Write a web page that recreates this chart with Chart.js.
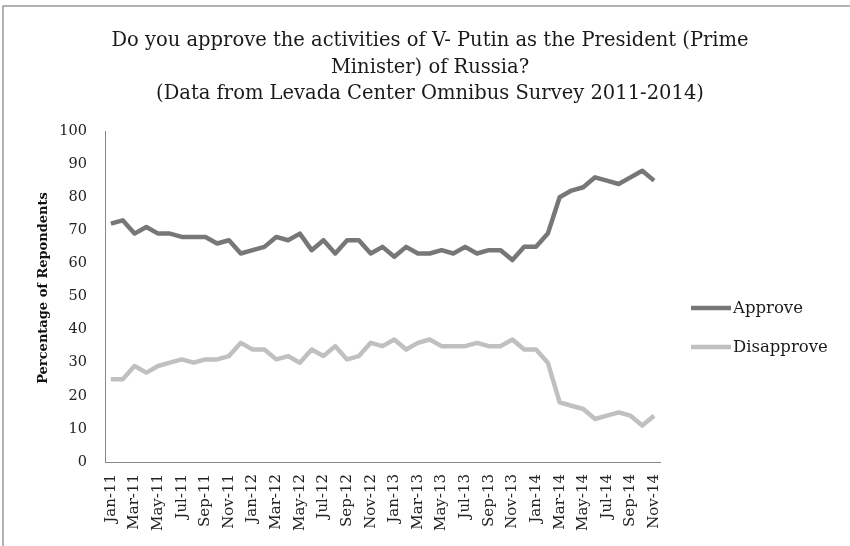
<!DOCTYPE html>
<html><head><meta charset="utf-8">
<script src="https://cdn.jsdelivr.net/npm/chart.js@4"></script>
<style>html,body{margin:0;padding:0;background:#fff}#wrap{width:850px;height:546px;position:relative}</style>
</head><body><div id="wrap"><canvas id="c" width="850" height="546"></canvas></div>
<script>
const months = ['Jan-11','Feb-11','Mar-11','Apr-11','May-11','Jun-11','Jul-11','Aug-11','Sep-11','Oct-11','Nov-11','Dec-11',
'Jan-12','Feb-12','Mar-12','Apr-12','May-12','Jun-12','Jul-12','Aug-12','Sep-12','Oct-12','Nov-12','Dec-12',
'Jan-13','Feb-13','Mar-13','Apr-13','May-13','Jun-13','Jul-13','Aug-13','Sep-13','Oct-13','Nov-13','Dec-13',
'Jan-14','Feb-14','Mar-14','Apr-14','May-14','Jun-14','Jul-14','Aug-14','Sep-14','Oct-14','Nov-14'];
const approve = [72,73,69,71,69,69,68,68,68,66,67,63, 64,65,68,67,69,64,67,63,67,67,63,65, 62,65,63,63,64,63,65,63,64,64,61,65, 65,69,80,82,83,86,85,84,86,88,85];
const disapprove = [25,25,29,27,29,30,31,30,31,31,32,36, 34,34,31,32,30,34,32,35,31,32,36,35, 37,34,36,37,35,35,35,36,35,35,37,34, 34,30,18,17,16,13,14,15,14,11,14];
const seriesNames = ['Approve','Disapprove'];
const titleLines = ['Do you approve the activities of V- Putin as the President (Prime','Minister) of Russia?','(Data from Levada Center Omnibus Survey 2011-2014)'];
const yAxisTitle = 'Percentage of Repondents';
const yMin = 0, yMax = 100, yStep = 10;

const FONT = '"DejaVu Serif", serif';
const deco = {
  id: 'deco',
  beforeDraw(chart) {
    const ctx = chart.ctx;
    ctx.save();
    ctx.fillStyle = '#fff';
    ctx.fillRect(0, 0, chart.width, chart.height);
    ctx.strokeStyle = '#999';
    ctx.lineWidth = 1.5;
    ctx.beginPath();
    ctx.moveTo(3, chart.height); ctx.lineTo(3, 6); ctx.lineTo(chart.width, 6);
    ctx.stroke();
    ctx.restore();
  },
  afterDraw(chart) {
    const ctx = chart.ctx;
    ctx.save();
    ctx.fillStyle = '#1a1a1a';
    ctx.font = '19.5px ' + FONT;
    ctx.textAlign = 'center';
    ctx.textBaseline = 'alphabetic';
    titleLines.forEach((t, i) => ctx.fillText(t, 430, 46 + i * 26.5));
    // y axis title
    ctx.save();
    ctx.translate(44, 288);
    ctx.rotate(-Math.PI / 2);
    ctx.font = 'bold 13px ' + FONT;
    ctx.fillStyle = '#111';
    ctx.textAlign = 'center';
    ctx.textBaseline = 'middle';
    ctx.fillText(yAxisTitle, 0, 0);
    ctx.restore();
    const ys = [308, 347];
    chart.data.datasets.forEach((ds, i) => {
      ctx.strokeStyle = ds.borderColor;
      ctx.lineWidth = 4.5;
      ctx.lineCap = 'butt';
      ctx.beginPath();
      ctx.moveTo(691, ys[i]); ctx.lineTo(731, ys[i]);
      ctx.stroke();
      ctx.fillStyle = '#1a1a1a';
      ctx.font = '16.5px ' + FONT;
      ctx.textAlign = 'left';
      ctx.textBaseline = 'middle';
      ctx.fillText(ds.label, 733, ys[i] + 1);
    });
    ctx.restore();
  }
};

new Chart(document.getElementById('c'), {
  type: 'line',
  data: {
    labels: months,
    datasets: [
      { label: seriesNames[0], data: approve, borderColor: '#777777', backgroundColor: '#777777', borderWidth: 4.5, pointRadius: 0, tension: 0, borderJoinStyle: 'round' },
      { label: seriesNames[1], data: disapprove, borderColor: '#c0c0c0', backgroundColor: '#c0c0c0', borderWidth: 4.5, pointRadius: 0, tension: 0, borderJoinStyle: 'round' }
    ]
  },
  options: {
    responsive: false,
    animation: false,
    devicePixelRatio: 1,
    layout: { padding: { left: 30, right: 190, top: 131, bottom: 0 } },
    plugins: { legend: { display: false }, title: { display: false }, tooltip: { enabled: false } },
    scales: {
      x: {
        type: 'category',
        offset: true,
        grid: { display: false, drawTicks: false },
        border: { display: true, color: '#888', width: 1 },
        ticks: {
          autoSkip: false, minRotation: 90, maxRotation: 90, padding: 12,
          color: '#222', font: { family: FONT, size: 15 },
          callback: function(v, i) { return i % 2 === 0 ? this.getLabelForValue(v) : ''; }
        },
        afterFit(s) { s.height = 84; }
      },
      y: {
        min: yMin, max: yMax,
        grid: { display: false, drawTicks: false },
        border: { display: true, color: '#888', width: 1 },
        ticks: { stepSize: yStep, padding: 18, color: '#222', font: { family: FONT, size: 14.5 } },
        afterFit(s) { s.width = 75; }
      }
    }
  },
  plugins: [deco]
});
</script>
</body></html>
